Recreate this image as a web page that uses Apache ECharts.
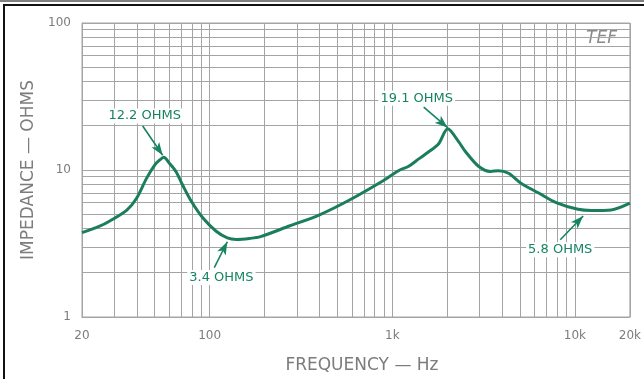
<!DOCTYPE html>
<html>
<head>
<meta charset="utf-8">
<script src="https://cdn.jsdelivr.net/npm/echarts@6/dist/echarts.min.js"></script>
<style>
html,body{margin:0;padding:0;background:#fff;}
#chart{width:644px;height:379px;}
</style>
</head>
<body>
<div id="chart"></div>
<script>
// ---- data ----
const freqHz = [20, 25, 28.4, 35.2, 39.8, 45.1, 50, 53.3, 56, 60.6, 65.6, 71.1, 79.5, 91.9, 108.6, 125, 140, 165, 190, 273, 397, 580, 877, 1087, 1230, 1396, 1583, 1795, 2010, 2307, 2520, 2966, 3450, 3810, 4330, 5090, 6300, 7900, 10400, 12300, 15800, 20000];
const impedanceOhms = [3.75, 4.15, 4.5, 5.34, 6.43, 8.77, 10.8, 11.7, 12.2, 11.0, 9.7, 7.9, 6.1, 4.71, 3.83, 3.45, 3.37, 3.42, 3.52, 4.16, 4.94, 6.23, 8.36, 9.93, 10.6, 11.9, 13.3, 15.1, 19.1, 15.6, 13.3, 10.6, 9.77, 9.9, 9.5, 8.1, 7.0, 6.0, 5.4, 5.3, 5.35, 5.95];

const xTickLabels = [20, 100, 1000, 10000, 20000];
const yTickLabels = [1, 10, 100];
const xGridValues = [20, 30, 40, 50, 60, 70, 80, 90, 100, 200, 300, 400, 500, 600, 700, 800, 900, 1000, 2000, 3000, 4000, 5000, 6000, 7000, 8000, 9000, 10000, 20000];
const yGridValues = [1, 2, 3, 4, 5, 6, 7, 8, 9, 10, 20, 30, 40, 50, 60, 70, 80, 90, 100];

const annotationText = ['12.2 OHMS', '19.1 OHMS', '3.4 OHMS', '5.8 OHMS'];
const annotationTextAt = [[44.1, 23.3], [1362, 30.8], [116, 1.86], [8310, 2.87]];
const arrowFrom = [[43.0, 19.9], [1486, 26.8], [106, 2.17], [8310, 3.35]];
const arrowTo = [[55.3, 12.6], [2010, 19.4], [125, 3.25], [11100, 4.86]];

const GREEN = '#1a7d5e';
const TEXTGREEN = '#168463';
const GRAY = '#7c7c7c';
const GRID = '#a4a4a4';
const FONT = 'DejaVu Sans';

const chart = echarts.init(document.getElementById('chart'));

const option = {
  backgroundColor: '#fff',
  animation: false,
  grid: { left: 82, right: 12, top: 23, bottom: 59, show: true, borderColor: GRID, borderWidth: 1 },
  xAxis: {
    type: 'log', logBase: 10, min: 20, max: 20000,
    name: 'FREQUENCY — Hz', nameLocation: 'middle', nameGap: 40,
    nameTextStyle: { color: GRAY, fontSize: 17, fontFamily: FONT, padding: [0, 0, 0, 12] },
    axisLine: { show: true, lineStyle: { color: GRID, width: 1 } },
    axisTick: { show: false, customValues: xGridValues },
    splitLine: { show: true, lineStyle: { color: GRID, width: 1 } },
    axisLabel: {
      customValues: xTickLabels, color: GRAY, fontSize: 12, fontFamily: FONT, margin: 13,
      formatter: v => v >= 1000 ? (v / 1000) + 'k' : String(v)
    }
  },
  yAxis: {
    type: 'log', logBase: 10, min: 1, max: 100,
    name: 'IMPEDANCE — OHMS', nameLocation: 'middle', nameGap: 43, nameRotate: 90,
    nameTextStyle: { color: GRAY, fontSize: 17, fontFamily: FONT },
    axisLine: { show: true, lineStyle: { color: GRID, width: 1 } },
    axisTick: { show: false, customValues: yGridValues },
    splitLine: { show: true, lineStyle: { color: GRID, width: 1 } },
    axisLabel: { customValues: yTickLabels, color: GRAY, fontSize: 12, fontFamily: FONT, margin: 11 }
  },
  series: [
    {
      type: 'line',
      data: freqHz.map((f, i) => [f, impedanceOhms[i]]),
      smooth: 0.3,
      symbol: 'none',
      lineStyle: { color: GREEN, width: 3 },
      z: 5,
      markLine: {
        silent: true,
        symbol: ['none', 'arrow'],
        symbolSize: [7, 13],
        lineStyle: { color: TEXTGREEN, width: 1.6, type: 'solid' },
        label: { show: false },
        data: arrowFrom.map((a, i) => [{ coord: a }, { coord: arrowTo[i] }])
      },
      markPoint: {
        silent: true,
        symbol: 'circle',
        symbolSize: 0,
        label: {
          show: true, position: 'inside', color: TEXTGREEN, fontSize: 13, fontFamily: FONT,
          backgroundColor: '#fff', padding: [1, 2],
          formatter: p => p.name
        },
        data: annotationText.map((t, i) => ({ name: t, coord: annotationTextAt[i] }))
      }
    }
  ],
  graphic: [
    { type: 'text', left: 586, top: 30, style: { text: 'TEF', fill: '#8a8a8a', font: 'italic 17px "DejaVu Sans"' } },
    { type: 'line', shape: { x1: 0, y1: 1, x2: 644, y2: 1 }, style: { stroke: '#555', lineWidth: 1.5 } },
    { type: 'line', shape: { x1: 3, y1: 5, x2: 644, y2: 5 }, style: { stroke: '#111', lineWidth: 2 } },
    { type: 'line', shape: { x1: 4, y1: 4, x2: 4, y2: 379 }, style: { stroke: '#111', lineWidth: 2 } }
  ]
};
chart.setOption(option);
</script>
</body>
</html>
